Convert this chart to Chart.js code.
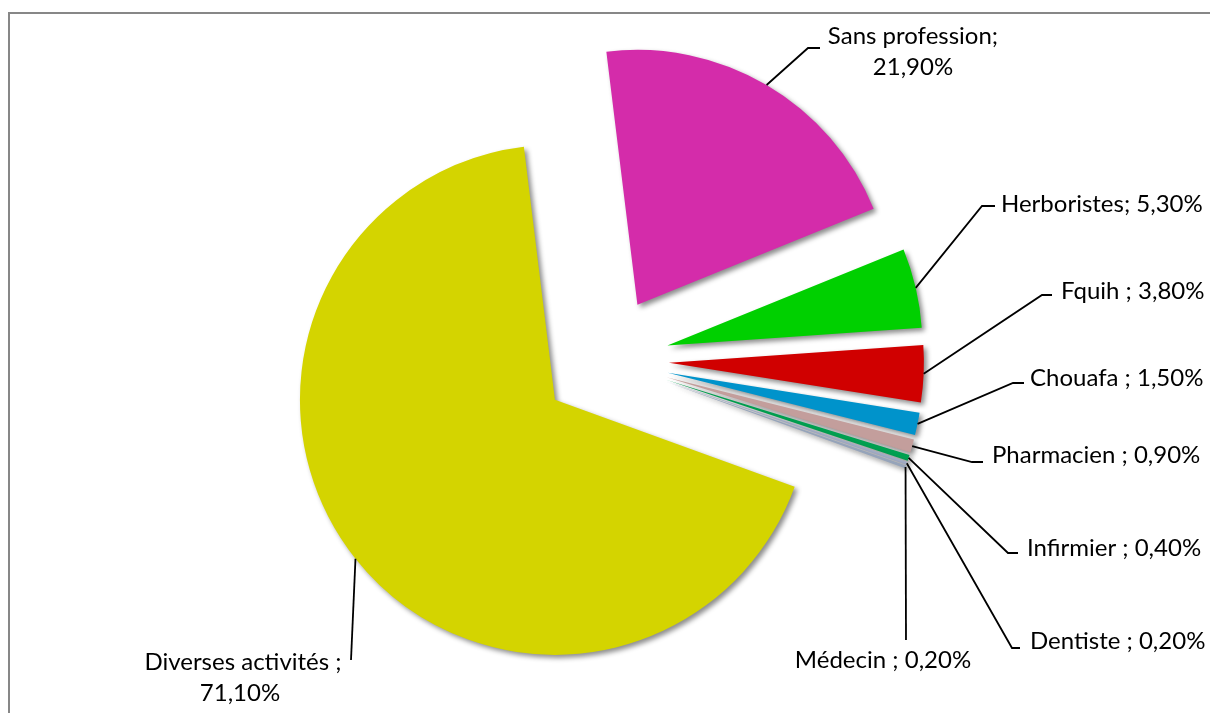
<!DOCTYPE html>
<html>
<head>
<meta charset="utf-8">
<script src="https://cdn.jsdelivr.net/npm/chart.js@4.4.1/dist/chart.umd.min.js"></script>
<style>
    html, body { margin: 0; padding: 0; background: #fff; }
    #wrap { position: relative; width: 1210px; height: 713px; }
</style>
</head>
<body>
<div id="wrap"><canvas id="professionChart"></canvas></div>
<script>
// Répartition par profession (%)
const categories = ['Sans profession', 'Herboristes', 'Fquih', 'Chouafa', 'Pharmacien',
    'Infirmier', 'Dentiste', 'Médecin', 'Diverses activités'];
const percents = [21.9, 5.3, 3.8, 1.5, 0.9, 0.4, 0.2, 0.2, 71.1];
const sliceColors = ['#D42CAA', '#00D000', '#D00000', '#0093CB', '#C39E9C',
    '#00A050', '#A4AEC8', '#96A4BA', '#D4D400'];
// separator between name and value, as written on each label
const separators = [';\n', '; ', ' ; ', ' ; ', ' ; ', ' ; ', ' ; ', ' ; ', ' ;\n'];

// where each label sits: elbow of the leader line, end of its short tail, text lines
const labelLayout = [
    { ex: 808, ey: 48, hx: 820, lines: [[913, 36, 'center'], [913, 67, 'center']] },
    { ex: 982, ey: 206, hx: 995, lines: [[1001, 204, 'left']] },
    { ex: 1042, ey: 295, hx: 1052, lines: [[1061, 291, 'left']] },
    { ex: 1013, ey: 383, hx: 1024, lines: [[1030, 378, 'left']] },
    { ex: 972, ey: 462, hx: 983, lines: [[992, 455, 'left']] },
    { ex: 1008, ey: 553, hx: 1018, lines: [[1027, 548, 'left']] },
    { ex: 1012, ey: 648, hx: 1020, lines: [[1030, 641, 'left']] },
    { ex: 906, ey: 640, hx: 906, lines: [[883, 660, 'center']] },
    { ex: 351, ey: 660, hx: 351, lines: [[243, 662, 'center'], [240, 693, 'center']] }
];

const EXPLODE = 64;          // how far every slice is pulled out, px
const PIE_RADIUS = 255;
const LABEL_FONT = '24px Lato';

function fmtPct(v) {
    return v.toFixed(2).replace('.', ',') + '%';
}

// the built-in `offset` also trims thin slices, so move each arc's centre instead
const explodeSlices = {
    id: 'explodeSlices',
    afterDatasetUpdate(chart, args) {
        const meta = chart.getDatasetMeta(args.index);
        meta.data.forEach(arc => {
            const mid = (arc.startAngle + arc.endAngle) / 2;
            arc.x += Math.cos(mid) * EXPLODE;
            arc.y += Math.sin(mid) * EXPLODE;
        });
    }
};

const frameBorder = {
    id: 'frameBorder',
    beforeDraw(chart) {
        const c = chart.ctx;
        c.save();
        c.strokeStyle = '#878787';
        c.lineWidth = 2;
        c.strokeRect(9, 13, 1400, 900);
        c.restore();
    }
};

const sliceShadow = {
    id: 'sliceShadow',
    beforeDatasetsDraw(chart) {
        const c = chart.ctx;
        c.save();
        c.shadowColor = 'rgba(0, 0, 0, 0.45)';
        c.shadowBlur = 5;
        c.shadowOffsetX = 3;
        c.shadowOffsetY = 3;
    },
    afterDatasetsDraw(chart) {
        chart.ctx.restore();
    }
};

const leaderLabels = {
    id: 'leaderLabels',
    afterDraw(chart) {
        const c = chart.ctx;
        const meta = chart.getDatasetMeta(0);
        c.save();
        c.strokeStyle = '#000';
        c.lineWidth = 1.8;
        c.fillStyle = '#000';
        c.font = LABEL_FONT;
        c.textBaseline = 'middle';
        meta.data.forEach((arc, i) => {
            const lay = labelLayout[i];
            const mid = (arc.startAngle + arc.endAngle) / 2;
            const ax = arc.x + Math.cos(mid) * arc.outerRadius;
            const ay = arc.y + Math.sin(mid) * arc.outerRadius;

            c.beginPath();
            c.moveTo(ax, ay);
            c.lineTo(lay.ex, lay.ey);
            c.lineTo(lay.hx, lay.ey);
            c.stroke();

            const text = (categories[i] + separators[i] + fmtPct(percents[i])).split('\n');
            text.forEach((line, k) => {
                const [x, y, align] = lay.lines[k];
                c.textAlign = align;
                c.fillText(line, x, y);
            });
        });
        c.restore();
    }
};

new Chart(document.getElementById('professionChart'), {
    type: 'pie',
    data: {
        labels: categories,
        datasets: [{
            data: percents,
            backgroundColor: sliceColors,
            borderWidth: 0,
            radius: PIE_RADIUS,
            rotation: -7
        }]
    },
    options: {
        responsive: true,
        maintainAspectRatio: false,
        animation: false,
        events: [],
        layout: { padding: { top: 7, bottom: 0, left: 0, right: 0 } },
        plugins: {
            legend: { display: false },
            tooltip: { enabled: false }
        }
    },
    plugins: [explodeSlices, frameBorder, sliceShadow, leaderLabels]
});
</script>
</body>
</html>
